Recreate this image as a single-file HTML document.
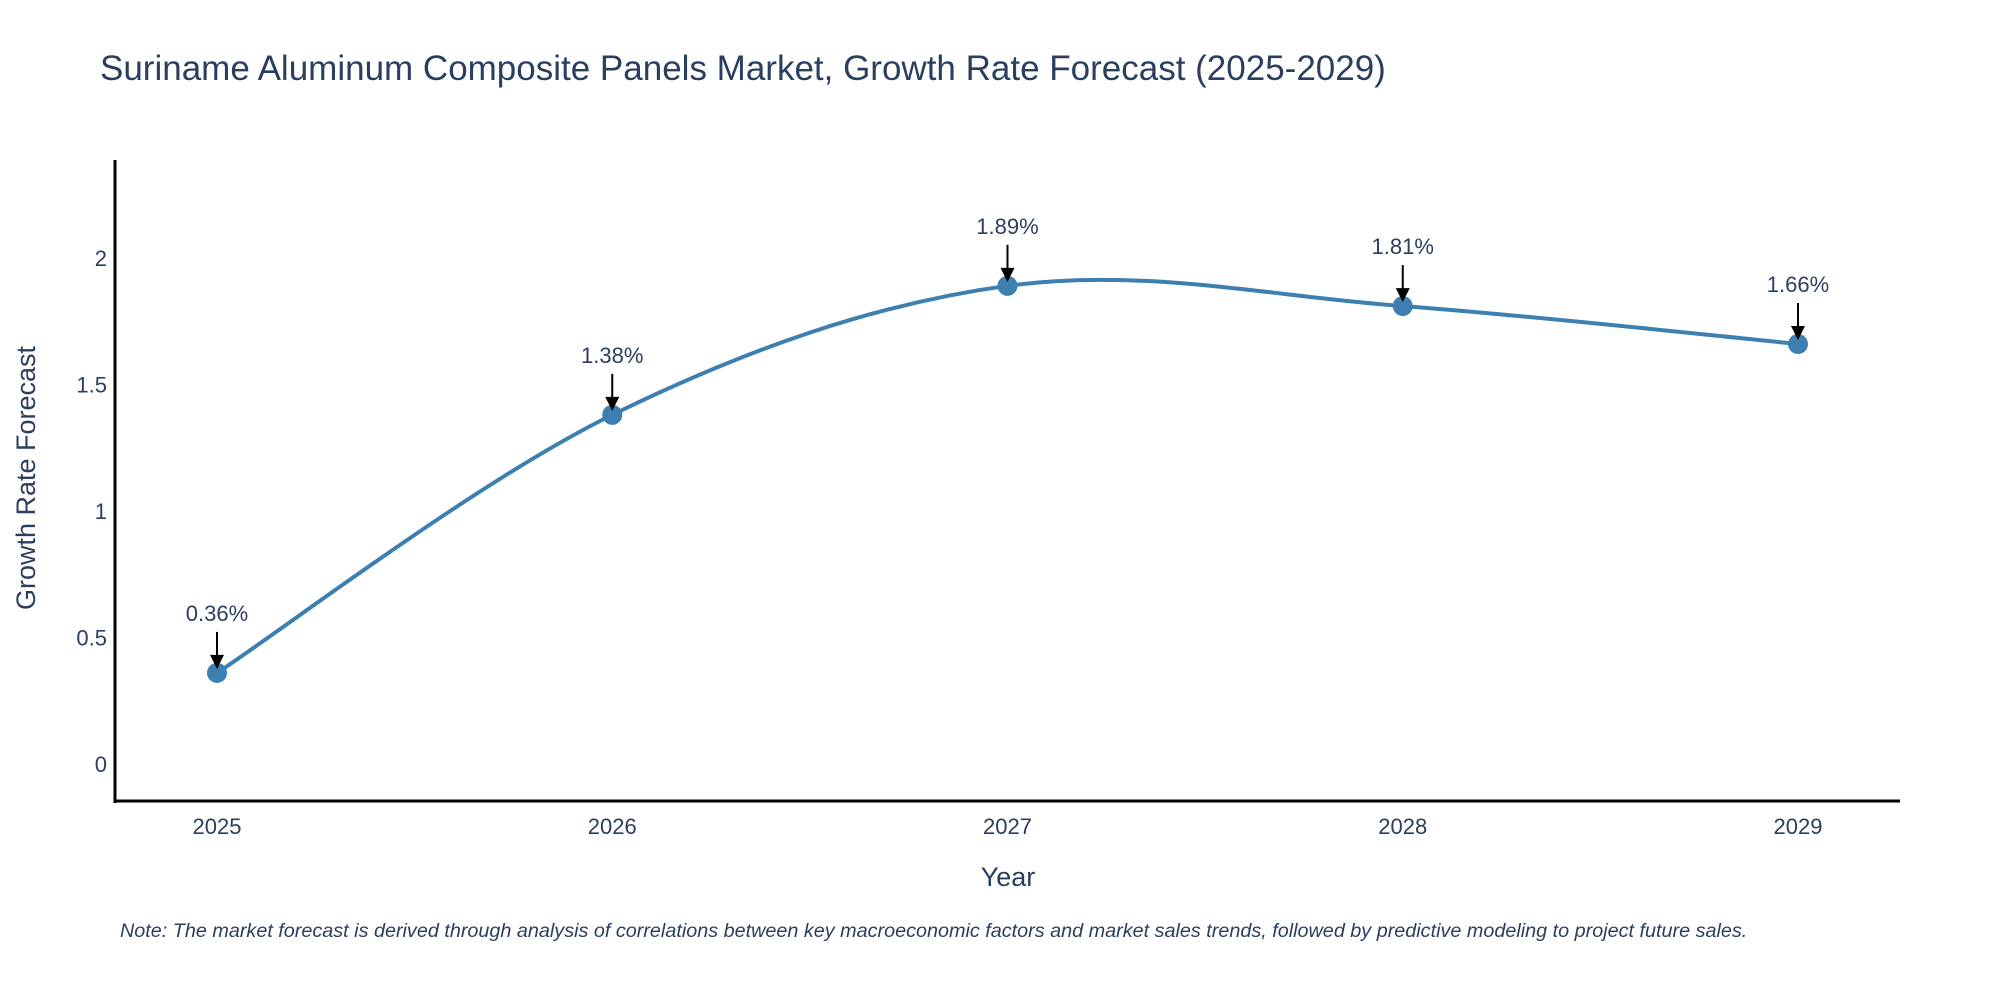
<!DOCTYPE html>
<html><head><meta charset="utf-8"><style>
html,body{margin:0;padding:0;background:#fff;}
svg text{font-family:"Liberation Sans",sans-serif;}
</style></head><body>
<svg id="chart" width="2000" height="1000" xmlns="http://www.w3.org/2000/svg">
<text x="100" y="80" font-size="35" fill="#2a3f5f">Suriname Aluminum Composite Panels Market, Growth Rate Forecast (2025-2029)</text>
<g id="yticks"></g>
<g id="xticks"></g>
<line x1="115" y1="160" x2="115" y2="803" stroke="#000" stroke-width="3"/>
<line x1="114" y1="801" x2="1900" y2="801" stroke="#000" stroke-width="3"/>
<text transform="translate(35,478) rotate(-90)" text-anchor="middle" font-size="27" fill="#2a3f5f">Growth Rate Forecast</text>
<text x="1008" y="886" text-anchor="middle" font-size="27" fill="#2a3f5f">Year</text>
<g id="series"></g>
<g id="annots"></g>
<text x="120" y="937" font-size="19.8" font-style="italic" fill="#2a3f5f">Note: The market forecast is derived through analysis of correlations between key macroeconomic factors and market sales trends, followed by predictive modeling to project future sales.</text>
</svg>
<script>
const categories = ["2025","2026","2027","2028","2029"];
const values = [0.36, 1.38, 1.89, 1.81, 1.66];
const valueLabels = ["0.36%","1.38%","1.89%","1.81%","1.66%"];
const yTicks = [0, 0.5, 1, 1.5, 2];
const yTickLabels = ["0","0.5","1","1.5","2"];

const NS="http://www.w3.org/2000/svg";
function xPos(i){ return 217 + i*395.25; }
function yPos(v){ return 764 - v*253; }
function mk(tag, attrs, parent){ const e=document.createElementNS(NS,tag); for(const k in attrs) e.setAttribute(k,attrs[k]); parent.appendChild(e); return e; }

const yt=document.getElementById('yticks');
yTicks.forEach((v,i)=>{ const t=mk('text',{x:107,y:yPos(v)+8,'text-anchor':'end','font-size':22,fill:'#2a3f5f'},yt); t.textContent=yTickLabels[i];

 });
const xt=document.getElementById('xticks');
categories.forEach((c,i)=>{ const t=mk('text',{x:xPos(i),y:834,'text-anchor':'middle','font-size':22,fill:'#2a3f5f'},xt); t.textContent=c;

 });

const pts=values.map((v,i)=>[xPos(i),yPos(v)]);
let d='M'+pts[0][0]+','+pts[0][1];
const k=0.17;
for(let i=0;i<pts.length-1;i++){
  const p0=pts[Math.max(i-1,0)],p1=pts[i],p2=pts[i+1],p3=pts[Math.min(i+2,pts.length-1)];
  const c1=[p1[0]+(p2[0]-p0[0])*k, p1[1]+(p2[1]-p0[1])*k];
  const c2=[p2[0]-(p3[0]-p1[0])*k, p2[1]-(p3[1]-p1[1])*k];
  d+=' C'+c1[0]+','+c1[1]+' '+c2[0]+','+c2[1]+' '+p2[0]+','+p2[1];
}
const s=document.getElementById('series');
const line=mk('path',{d:d,fill:'none',stroke:'#3d7fb0','stroke-width':4},s);


pts.forEach((p,i)=>{ const c=mk('circle',{cx:p[0],cy:p[1],r:10,fill:'#3d7fb0'},s);

 });

const a=document.getElementById('annots');
pts.forEach((p,i)=>{
  const ln=mk('line',{x1:p[0],y1:p[1]-41,x2:p[0],y2:p[1]-16,stroke:'#000','stroke-width':2},a);
  
  
  const hd=mk('polygon',{points:(p[0]-7)+','+(p[1]-18)+' '+(p[0]+7)+','+(p[1]-18)+' '+p[0]+','+(p[1]-4),fill:'#000'},a);
  
  
  const t=mk('text',{x:p[0],y:p[1]-52,'text-anchor':'middle','font-size':22,fill:'#2a3f5f'},a);
  t.textContent=valueLabels[i];
  
  
});
</script>
</body></html>
